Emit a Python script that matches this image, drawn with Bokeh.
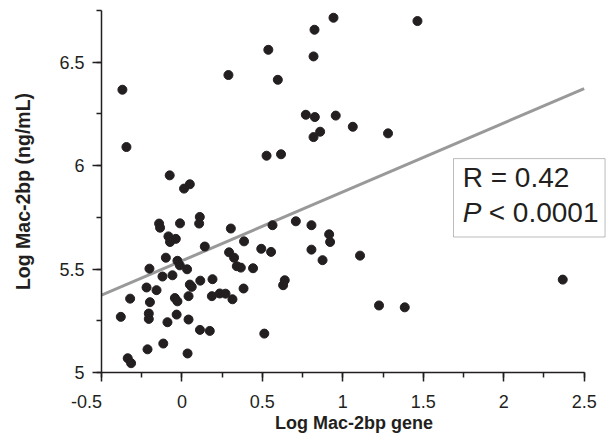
from bokeh.plotting import figure
from bokeh.models import SingleIntervalTicker, Label, BoxAnnotation, Range1d
from bokeh.embed import file_html
from bokeh.resources import INLINE

# Data
gene = [-0.370, -0.345, -0.076, 0.013, 0.049, 0.289, 0.537, 0.526, 0.616, 0.596,
        0.818, 0.824, 0.942, 1.464, 0.770, 0.826, 0.956, 1.062, 0.859, 0.818,
        1.281, 0.111, 0.107, -0.142, -0.136, -0.012, 0.304, -0.084, -0.038, -0.074,
        0.142, -0.100, -0.028, -0.013, 0.293, 0.324, 0.386, 0.493, 0.554, 0.563,
        0.708, 0.805, 0.915, 0.921, 0.805, 0.874, 1.107, -0.202, 0.032, -0.121,
        -0.059, 0.341, 0.366, 0.442, 0.114, 0.190, 0.049, 0.061, -0.220, -0.158,
        0.383, 0.639, 0.629, -0.322, -0.199, -0.044, -0.028, 0.041, 0.186, 0.235,
        0.271, 0.314, -0.380, -0.206, -0.206, -0.033, -0.090, 0.041, 0.112, 0.173,
        0.512, -0.116, -0.214, 0.035, -0.337, -0.316, 1.225, 1.385, 2.367]
serum = [6.367, 6.090, 5.953, 5.889, 5.910, 6.438, 6.560, 6.048, 6.055, 6.415,
         6.528, 6.657, 6.715, 6.699, 6.246, 6.235, 6.242, 6.188, 6.164, 6.138,
         6.156, 5.752, 5.720, 5.720, 5.700, 5.721, 5.696, 5.658, 5.646, 5.631,
         5.609, 5.555, 5.540, 5.518, 5.581, 5.555, 5.634, 5.598, 5.583, 5.712,
         5.731, 5.712, 5.668, 5.631, 5.594, 5.543, 5.565, 5.502, 5.499, 5.464,
         5.470, 5.514, 5.507, 5.504, 5.444, 5.451, 5.425, 5.414, 5.411, 5.398,
         5.406, 5.446, 5.422, 5.357, 5.340, 5.360, 5.344, 5.369, 5.369, 5.382,
         5.381, 5.354, 5.269, 5.285, 5.259, 5.280, 5.243, 5.256, 5.206, 5.201,
         5.188, 5.140, 5.112, 5.092, 5.069, 5.045, 5.324, 5.315, 5.449]

# Regression line parameters
fit_intercept = 5.54
fit_slope = 0.333
fit_x = [-0.5, 2.5]
fit_y = [fit_intercept + fit_slope * v for v in fit_x]

stat_r = "R = 0.42"
stat_p = "< 0.0001"

x_axis_span = (-0.5, 2.5)
y_axis_span = (5.0, 6.75)

FONT = "Liberation Sans"
INK = "#231f20"

p = figure(width=606, height=440, output_backend="svg", toolbar_location=None,
           x_range=Range1d(-0.5, 2.639), y_range=Range1d(*y_axis_span),
           min_border_left=101, min_border_right=0, min_border_top=10,
           min_border_bottom=68)
p.outline_line_color = None
p.grid.grid_line_color = None
p.background_fill_color = "white"
p.border_fill_color = "white"

p.line(fit_x, fit_y, line_color="#999999", line_width=3)
p.scatter(gene, serum, size=9, fill_color=INK, line_color=INK, marker="circle")

for ax, span in ((p.xaxis[0], x_axis_span), (p.yaxis[0], y_axis_span)):
    ax.bounds = span
    ax.ticker = SingleIntervalTicker(interval=0.5, num_minor_ticks=2)
    ax.axis_line_color = INK
    ax.axis_line_width = 1.5
    ax.major_tick_line_color = INK
    ax.major_tick_line_width = 1.5
    ax.minor_tick_line_color = INK
    ax.minor_tick_line_width = 1.5
    ax.major_tick_in = 0
    ax.major_tick_out = 9
    ax.minor_tick_in = 0
    ax.minor_tick_out = 5
    ax.major_label_text_font = FONT
    ax.major_label_text_font_size = "18px"
    ax.major_label_text_color = INK
    ax.axis_label_text_font = FONT
    ax.axis_label_text_font_style = "bold"
    ax.axis_label_text_color = INK

p.xaxis.axis_label = "Log Mac-2bp gene"
p.yaxis.axis_label = "Log Mac-2bp (ng/mL)"
p.xaxis.axis_label_text_font_size = "18px"
p.yaxis.axis_label_text_font_size = "19.5px"
p.xaxis.major_label_standoff = 10
p.yaxis.major_label_standoff = 8
p.xaxis.axis_label_standoff = -2
p.yaxis.axis_label_standoff = 22
p.xaxis.major_label_overrides = {-0.5: "-0.5" + "\u00a0" * 6}

box = BoxAnnotation(left=1.688, right=2.63, top=6.034, bottom=5.655,
                    fill_color="white", fill_alpha=1.0,
                    line_color=INK, line_width=1)
p.add_layout(box)

p.add_layout(Label(x=1.745, y=5.866, text=stat_r, text_font=FONT,
                   text_font_size="28px", text_color=INK))
p.add_layout(Label(x=1.745, y=5.697, text="P", text_font=FONT,
                   text_font_size="28px", text_font_style="italic",
                   text_color=INK))
p.add_layout(Label(x=1.907, y=5.697, text=stat_p, text_font=FONT,
                   text_font_size="28px", text_color=INK))

open("out.html", "w").write(file_html(p, INLINE))
